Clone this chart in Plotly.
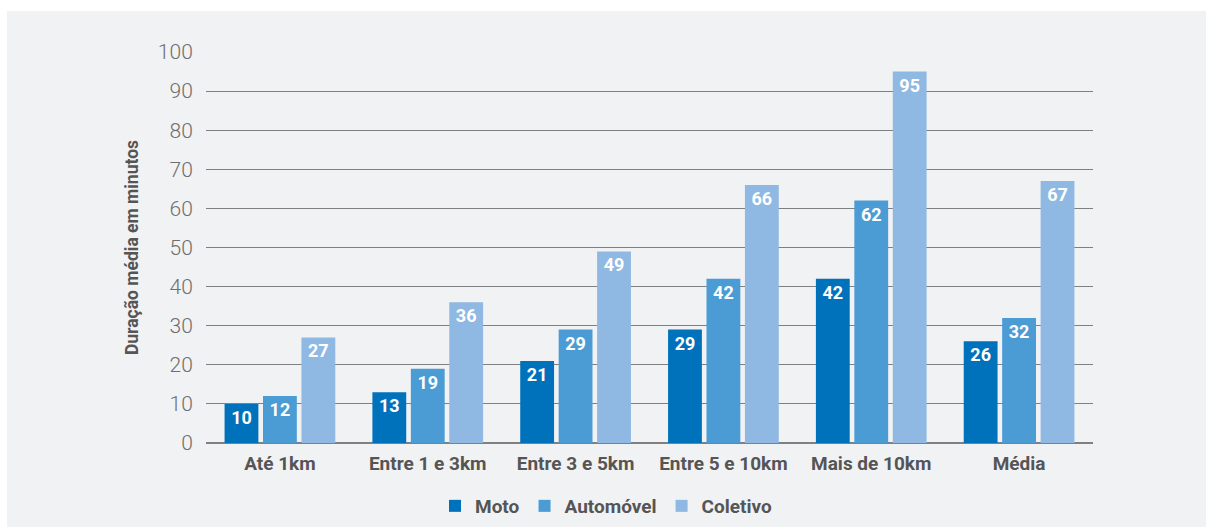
import plotly.graph_objects as go

categories = ["Até 1km", "Entre 1 e 3km", "Entre 3 e 5km", "Entre 5 e 10km", "Mais de 10km", "Média"]
moto = [10, 13, 21, 29, 42, 26]
automovel = [12, 19, 29, 42, 62, 32]
coletivo = [27, 36, 49, 66, 95, 67]
series_names = ["Moto", "Automóvel", "Coletivo"]
y_ticks = [0, 10, 20, 30, 40, 50, 60, 70, 80, 90, 100]

colors = ["#0071bb", "#4b9bd5", "#8fb9e3"]
W, H = 1206, 527
ML, MR, MT, MB = 206, 113, 52, 84
pw, ph = W - ML - MR, H - MT - MB

fig = go.Figure()
for name, vals, col in zip(series_names, [moto, automovel, coletivo], colors):
    fig.add_trace(go.Bar(
        name=name, x=categories, y=vals, marker=dict(color=col, line=dict(width=0)),
        text=[str(v) for v in vals], textposition="inside", insidetextanchor="end",
        textangle=0,
        textfont=dict(family="Roboto", size=18, color="white", weight="bold"),
    ))

# light grey panel (white strip at top and left)
x0 = (7 - ML) / pw
x1 = (W - ML) / pw + 0.01
y0 = -(H - MT - ph) / ph - 0.01
y1 = (MT + ph - 11) / ph
fig.add_shape(type="rect", xref="paper", yref="paper", x0=x0, x1=x1, y0=y0, y1=y1,
              fillcolor="#f1f2f4", line=dict(width=0), layer="below")

fig.update_layout(
    width=W, height=H,
    margin=dict(l=ML, r=MR, t=MT, b=MB, autoexpand=False),
    paper_bgcolor="white", plot_bgcolor="#f1f2f4",
    barmode="group", bargap=0.22, bargroupgap=0.12,
    font=dict(family="Roboto", color="#555"),
    legend=dict(orientation="h", x=(606 - ML) / pw, xanchor="center",
                y=-(506 - MT - ph) / ph, yanchor="middle",
                font=dict(family="Roboto", size=19, color="#555", weight="bold"),
                bgcolor="rgba(0,0,0,0)", itemwidth=30, traceorder="normal"),
    xaxis=dict(showgrid=False, showline=False, zeroline=False,
               ticks="outside", ticklen=3, tickcolor="rgba(0,0,0,0)",
               tickfont=dict(family="Roboto", size=19, color="#555", weight="bold")),
    yaxis=dict(range=[0, 100], tickvals=y_ticks, showgrid=True, gridcolor="#808080",
               gridwidth=1, zeroline=True, zerolinecolor="#808080", zerolinewidth=1.5,
               showline=False, ticks="outside", ticklen=8, tickcolor="rgba(0,0,0,0)",
               tickfont=dict(family="Roboto", size=21, color="#6e6e6e", weight=300),
               title=dict(text="Duração média em minutos", standoff=14,
                          font=dict(family="Roboto", size=17.5, color="#555", weight="bold"))),
)

fig.write_html("out.html")
